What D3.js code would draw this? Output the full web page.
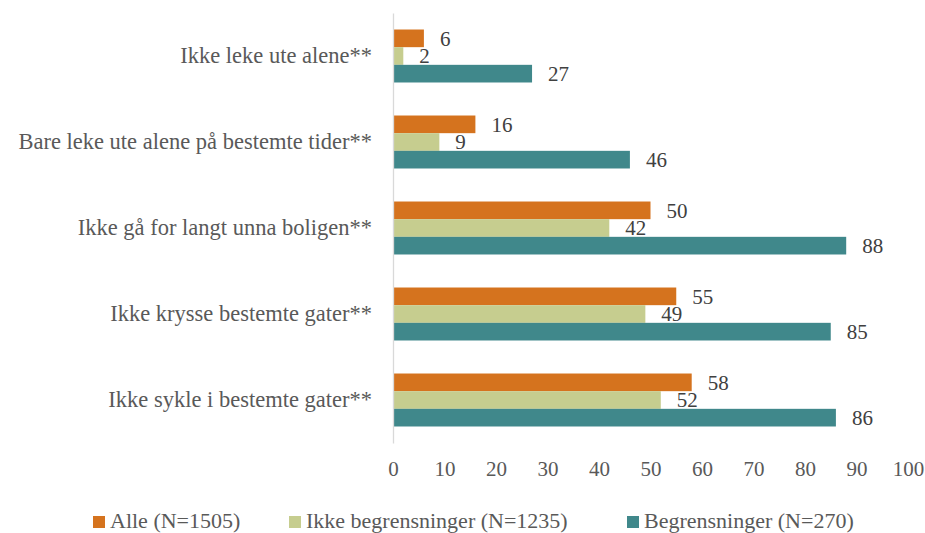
<!DOCTYPE html>
<html>
<head>
<meta charset="utf-8">
</head>
<body style="margin:0">
<script src="https://cdn.jsdelivr.net/npm/d3@7"></script>
<script>
// chart data
var categories = ["Ikke leke ute alene**", "Bare leke ute alene på bestemte tider**",
                  "Ikke gå for langt unna boligen**", "Ikke krysse bestemte gater**",
                  "Ikke sykle i bestemte gater**"];
var alle = [6, 16, 50, 55, 58];
var ikkeBegr = [2, 9, 42, 49, 52];
var begr = [27, 46, 88, 85, 86];
var seriesNames = ["Alle (N=1505)", "Ikke begrensninger (N=1235)", "Begrensninger (N=270)"];
var seriesColors = ["#d5731e", "#c6cd8f", "#40888b"];
var tickValues = [0, 10, 20, 30, 40, 50, 60, 70, 80, 90, 100];

var serifFont = "Liberation Serif";

var svg = d3.select("body").append("svg")
    .attr("width", 925)
    .attr("height", 533)
    .attr("font-family", serifFont);

// scales
var x = d3.scaleLinear().domain([0, 100]).range([393, 908]);
var y = d3.scaleBand().domain(categories).range([13, 443])
    .paddingInner(0.384).paddingOuter(0.192);
var ySub = d3.scaleBand().domain([0, 1, 2]).range([0, y.bandwidth()]);

var series = [alle, ikkeBegr, begr];

// bars
series.forEach(function(vals, s) {
  svg.append("g").selectAll("rect")
    .data(vals)
    .enter().append("rect")
      .attr("x", x(0))
      .attr("y", function(d, i) { return y(categories[i]) + ySub(s); })
      .attr("width", function(d) { return x(d) - x(0); })
      .attr("height", ySub.bandwidth())
      .attr("fill", seriesColors[s]);
});

// value labels
series.forEach(function(vals, s) {
  svg.append("g").selectAll("text")
    .data(vals)
    .enter().append("text")
      .attr("x", function(d) { return x(d) + 16; })
      .attr("y", function(d, i) { return y(categories[i]) + ySub(s) + ySub.bandwidth() / 2; })
      .attr("dy", "0.35em")
      .attr("font-family", serifFont)
      .attr("font-size", 21)
      .attr("fill", "#404040")
      .text(function(d) { return d; });
});

// category axis (left line + labels)
var yAxis = svg.append("g")
    .call(d3.axisLeft(y).tickSize(0).tickPadding(21))
    .attr("font-family", serifFont)
    .attr("font-size", 22.5)
    .attr("transform", "translate(" + x(0) + ",0)");
yAxis.select(".domain").attr("stroke", "#d9d9d9").attr("stroke-width", 1.3);
yAxis.selectAll("text")
    .attr("font-family", serifFont)
    .attr("font-size", 22.5)
    .attr("fill", "#595959");

// value axis labels
var xAxis = svg.append("g")
    .call(d3.axisBottom(x).tickValues(tickValues).tickSize(0).tickPadding(18))
    .attr("font-family", serifFont)
    .attr("font-size", 21)
    .attr("transform", "translate(0,443)");
xAxis.select(".domain").remove();
xAxis.selectAll("text")
    .attr("font-family", serifFont)
    .attr("font-size", 21)
    .attr("fill", "#595959");

// legend
var legendX = [93, 289, 627];
var legend = svg.append("g").selectAll("g")
    .data(seriesNames)
    .enter().append("g")
      .attr("transform", function(d, i) { return "translate(" + legendX[i] + ",516)"; });
legend.append("rect")
    .attr("width", 12).attr("height", 12)
    .attr("fill", function(d, i) { return seriesColors[i]; });
legend.append("text")
    .attr("x", 17).attr("y", 12)
    .attr("font-family", serifFont)
    .attr("font-size", 22)
    .attr("fill", "#595959")
    .text(function(d) { return d; });
</script>
</body>
</html>
